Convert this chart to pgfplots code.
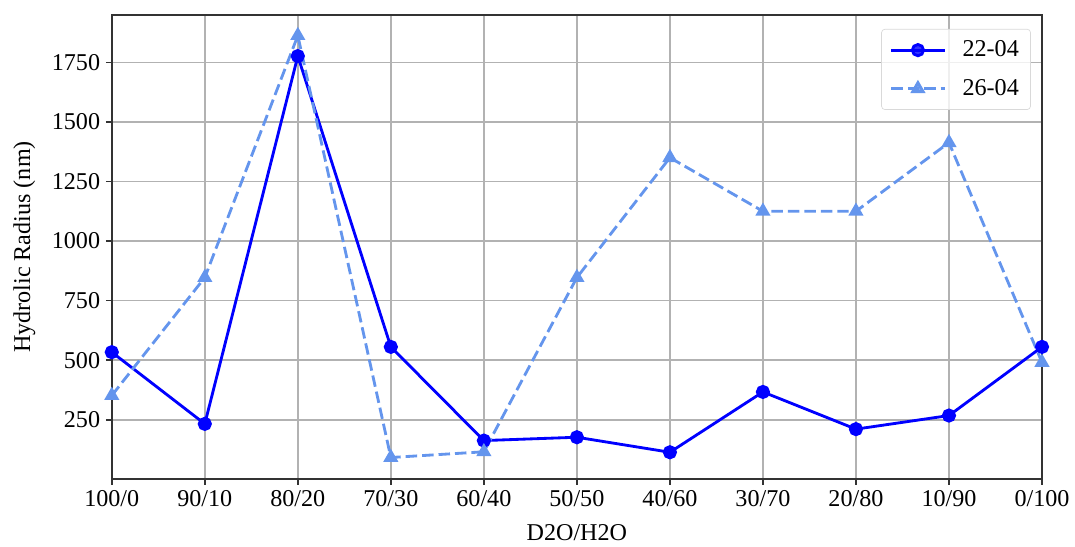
\documentclass[border=0pt]{standalone}
\usepackage{fontspec}
\setmainfont{Liberation Serif}
\usepackage{pgfplots}
\pgfplotsset{compat=1.18}

\definecolor{runA}{RGB}{0,0,255}
\definecolor{runB}{RGB}{100,149,237}

\begin{document}
\begin{tikzpicture}
\begin{axis}[
  width=559.2pt, height=279pt, scale only axis,
  xmin=0, xmax=10, ymin=1.5, ymax=1948.5,
  xtick={0,...,10},
  xticklabels={100/0,90/10,80/20,70/30,60/40,50/50,40/60,30/70,20/80,10/90,0/100},
  ytick={250,500,750,1000,1250,1500,1750},
  /pgf/number format/assume math mode=true,
  /pgf/number format/1000 sep={},
  grid=major,
  grid style={color=black!30, line width=0.9pt},
  axis line style={line width=0.9pt, black!80},
  tick align=outside, tick pos=left,
  major tick length=3.5pt,
  tick style={black!80, line width=0.9pt},
  font=\fontsize{14.5}{17}\selectfont,
  tick label style={font=\fontsize{14.5}{17}\selectfont},
  xlabel={D2O/H2O},
  ylabel={Hydrolic Radius (nm)},
  xlabel style={yshift=-3.5pt},
  ylabel style={yshift=3pt},
  legend style={at={(0.988,0.97)}, anchor=north east,
    draw=black!15, rounded corners=2pt, fill=white, fill opacity=0.8,
    text opacity=1, font=\fontsize{14.5}{17}\selectfont,
    inner xsep=5pt, inner ysep=5pt, row sep=8pt},
  legend cell align=left,
  % sample line with a centred mark, plus blank room before the text
  legend image code/.code={%
    \draw[mark repeat=2, mark phase=2]
      plot coordinates {(0pt,0pt) (16pt,0pt) (32pt,0pt)};
    \path (40pt,0pt) node[draw=none, fill=none, inner sep=0pt,
      minimum size=0pt] {};},
]
\addplot[color=runA, line width=1.7pt, mark=*, mark size=3.4pt,
  mark options={solid}]
  coordinates {
    (0,534) (1,233) (2,1776) (3,556) (4,163) (5,177)
    (6,114) (7,367) (8,211) (9,268) (10,556)
  };
\addlegendentry{22-04}
\addplot[color=runB, line width=1.7pt, dash pattern=on 6.9pt off 3pt,
  mark=triangle*, mark size=3.6pt, mark options={solid}]
  coordinates {
    (0,352) (1,847) (2,1862) (3,92) (4,116) (5,847)
    (6,1350) (7,1125) (8,1125) (9,1413) (10,491)
  };
\addlegendentry{26-04}
\end{axis}
% page margins around the plot area
\path ([shift={(-67.2pt,-39pt)}]current axis.south west)
  rectangle ([shift={(18.6pt,9pt)}]current axis.north east);
\end{tikzpicture}
\end{document}
